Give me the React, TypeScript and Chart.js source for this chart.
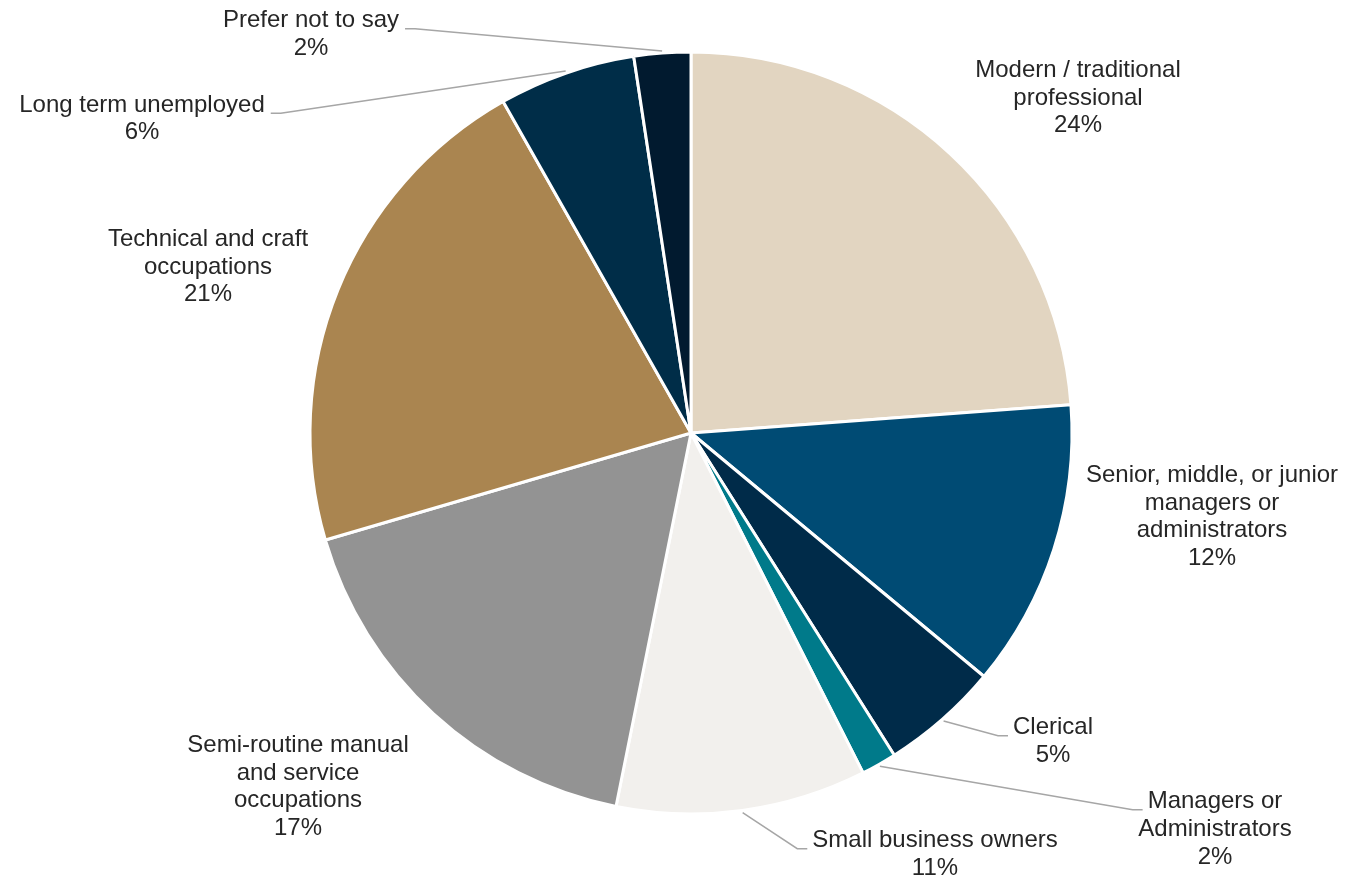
import React, { useEffect, useRef } from "react";
import { Chart, registerables } from "chart.js";

Chart.register(...registerables);

const categories: string[][] = [
  ["Modern / traditional", "professional"],
  ["Senior, middle, or junior", "managers or", "administrators"],
  ["Clerical"],
  ["Managers or", "Administrators"],
  ["Small business owners"],
  ["Semi-routine manual", "and service", "occupations"],
  ["Technical and craft", "occupations"],
  ["Long term unemployed"],
  ["Prefer not to say"],
];
const values: number[] = [23.8, 12.2, 5.0, 1.5, 10.6, 17.3, 21.3, 5.8, 2.4];
const percentLabels: string[] = ["24%", "12%", "5%", "2%", "11%", "17%", "21%", "6%", "2%"];
const colors: string[] = [
  "#E2D5C1",
  "#004B74",
  "#002B49",
  "#007A8A",
  "#F2F0ED",
  "#939393",
  "#AA8550",
  "#002D48",
  "#011A2F",
];

// Label layout: text block centre offset from pie centre (px), and leader line side
type LabelLayout = { dx: number; dy: number; leader: "none" | "left" | "right" };
const labelLayout: LabelLayout[] = [
  { dx: 387, dy: -335, leader: "none" },
  { dx: 521, dy: 84, leader: "none" },
  { dx: 362, dy: 308.5, leader: "left" },
  { dx: 524, dy: 396.5, leader: "left" },
  { dx: 244, dy: 421.5, leader: "left" },
  { dx: -393, dy: 354, leader: "none" },
  { dx: -483, dy: -166, leader: "none" },
  { dx: -549, dy: -314, leader: "right" },
  { dx: -380, dy: -398.5, leader: "right" },
];

const FONT = "24px 'Liberation Sans', Arial, sans-serif";
const LINE_H = 27.7;

const labelPlugin = {
  id: "pieLabels",
  afterDraw(chart: any) {
    const ctx = chart.ctx as CanvasRenderingContext2D;
    const meta = chart.getDatasetMeta(0);
    ctx.save();
    ctx.font = FONT;
    ctx.textAlign = "center";
    ctx.textBaseline = "middle";
    meta.data.forEach((arc: any, i: number) => {
      const cx = arc.x;
      const cy = arc.y;
      const r = arc.outerRadius;
      const lay = labelLayout[i];
      const lines = [...categories[i], percentLabels[i]];
      const bx = cx + lay.dx;
      const by = cy + lay.dy;
      const top = by - ((lines.length - 1) * LINE_H) / 2;
      if (lay.leader !== "none") {
        const mid = (arc.startAngle + arc.endAngle) / 2;
        const sx = cx + Math.cos(mid) * (r + 2);
        const sy = cy + Math.sin(mid) * (r + 2);
        const w = ctx.measureText(lines[0]).width;
        const ly = top + 8;
        let ex: number, elx: number;
        if (lay.leader === "left") {
          const edge = bx - w / 2;
          ex = edge - 5;
          elx = edge - 15;
        } else {
          const edge = bx + w / 2;
          ex = edge + 6;
          elx = edge + 16;
        }
        ctx.strokeStyle = "#A6A6A6";
        ctx.lineWidth = 1.5;
        ctx.beginPath();
        ctx.moveTo(sx, sy);
        ctx.lineTo(elx, ly);
        ctx.lineTo(ex, ly);
        ctx.stroke();
      }
      ctx.fillStyle = "#262626";
      lines.forEach((t, k) => {
        ctx.fillText(t, bx, top + k * LINE_H);
      });
    });
    ctx.restore();
  },
};

export default function App() {
  const ref = useRef<HTMLCanvasElement | null>(null);
  useEffect(() => {
    if (!ref.current) return;
    const chart = new Chart(ref.current, {
      type: "pie",
      data: {
        labels: categories.map((c) => c.join(" ")),
        datasets: [
          {
            data: values,
            backgroundColor: colors,
            borderColor: "#FFFFFF",
            borderWidth: 3,
          },
        ],
      },
      options: {
        animation: false,
        responsive: false,
        radius: 381,
        layout: { padding: { left: 37, right: 0, top: 0, bottom: 14 } },
        plugins: {
          legend: { display: false },
          tooltip: { enabled: false },
        },
      },
      plugins: [labelPlugin],
    });
    return () => chart.destroy();
  }, []);
  return (
    <div style={{ position: "fixed", left: 0, top: 0, width: 1345, height: 880, background: "#FFFFFF" }}>
      <canvas ref={ref} width={1345} height={880} style={{ width: 1345, height: 880 }} />
    </div>
  );
}
